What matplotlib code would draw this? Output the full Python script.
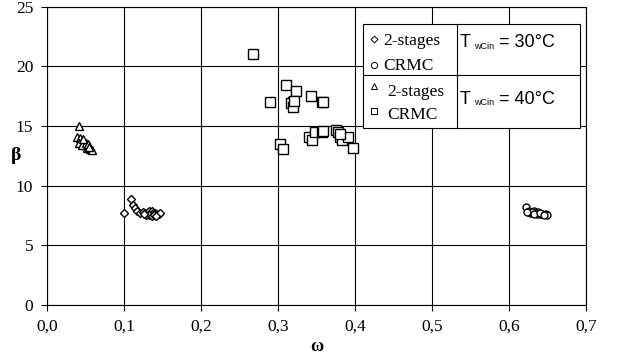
import numpy as np
import matplotlib.pyplot as plt
from matplotlib.patches import Rectangle

# 2-stages, TwCin = 30 C
w_2st_30 = [0.100, 0.109, 0.111, 0.114, 0.117, 0.121, 0.124, 0.127, 0.130, 0.132,
            0.134, 0.136, 0.138, 0.140, 0.142, 0.145, 0.147, 0.129, 0.133, 0.136,
            0.139, 0.142, 0.126]
b_2st_30 = [7.74, 8.86, 8.39, 8.10, 7.90, 7.74, 7.80, 7.70, 7.75, 7.85,
            7.60, 7.85, 7.70, 7.75, 7.60, 7.65, 7.70, 7.50, 7.55, 7.45,
            7.50, 7.45, 7.60]

# CRMC, TwCin = 30 C
w_crmc_30 = [0.622, 0.626, 0.628, 0.632, 0.635, 0.638, 0.640, 0.643, 0.648, 0.650,
             0.630, 0.636, 0.624, 0.633, 0.641, 0.646]
b_crmc_30 = [8.2, 7.9, 7.7, 7.9, 7.7, 7.8, 7.6, 7.6, 7.6, 7.5,
             7.8, 7.6, 7.8, 7.65, 7.75, 7.5]

# 2-stages, TwCin = 40 C
w_2st_40 = [0.041, 0.039, 0.043, 0.045, 0.041, 0.047, 0.049, 0.054, 0.056, 0.052,
            0.045, 0.058, 0.050, 0.053, 0.047, 0.055]
b_2st_40 = [15.0, 14.1, 14.0, 13.7, 13.56, 13.6, 13.4, 13.3, 13.1, 13.2,
            13.4, 13.0, 13.6, 13.5, 13.9, 13.25]

# CRMC, TwCin = 40 C
w_crmc_40 = [0.267, 0.290, 0.310, 0.324, 0.319, 0.317, 0.320, 0.321, 0.343, 0.357,
             0.358, 0.3025, 0.307, 0.340, 0.344, 0.348, 0.357, 0.358, 0.375, 0.378,
             0.380, 0.383, 0.391, 0.397, 0.381]
b_crmc_40 = [21.06, 17.05, 18.46, 17.95, 17.0, 16.9, 16.6, 17.1, 17.5, 17.0,
             17.05, 13.5, 13.1, 14.07, 13.84, 14.5, 14.5, 14.6, 14.68, 14.5,
             14.1, 13.84, 14.07, 13.15, 14.3]

xticks = [0.0, 0.1, 0.2, 0.3, 0.4, 0.5, 0.6, 0.7]
xticklabels = ['0,0', '0,1', '0,2', '0,3', '0,4', '0,5', '0,6', '0,7']
yticks = [0, 5, 10, 15, 20, 25]

serif = 'Liberation Serif'
sans = 'Liberation Sans'

fig = plt.figure(figsize=(6.2, 3.6), dpi=100)
ax = fig.add_axes([0.076, 0.153, 0.869, 0.828])

mk = dict(linestyle='none', markerfacecolor='white', markeredgecolor='black',
          markeredgewidth=1.0, zorder=3)
ax.plot(w_2st_30, b_2st_30, marker='D', markersize=4.5, **mk)
ax.plot(w_crmc_30, b_crmc_30, marker='o', markersize=5, **mk)
ax.plot(w_2st_40, b_2st_40, marker='^', markersize=5.5, **mk)
ax.plot(w_crmc_40, b_crmc_40, marker='s', markersize=6.5, **mk)

ax.set_xlim(0, 0.7)
ax.set_ylim(0, 25)
ax.set_xticks(xticks)
ax.set_xticklabels(xticklabels, fontfamily=serif, fontsize=12.5)
ax.set_yticks(yticks)
ax.set_yticklabels([str(v) for v in yticks], fontfamily=serif, fontsize=12.5)
ax.tick_params(direction='out', length=4, width=0.8, pad=6)
ax.grid(True, color='black', linewidth=0.8)
ax.set_axisbelow(True)
for s in ax.spines.values():
    s.set_linewidth(0.8)

ax.set_xlabel('ω', fontfamily=serif, fontweight='bold', fontsize=13, labelpad=2)
ax.set_ylabel('β', fontfamily=serif, fontweight='bold', fontsize=14,
              rotation=0, va='center', ha='center')
ax.yaxis.set_label_coords(-0.058, 0.50)

# legend table
tr = ax.transAxes
ax.add_patch(Rectangle((0.586, 0.594), 0.403, 0.349, transform=tr,
                       facecolor='white', edgecolor='black', linewidth=0.8,
                       zorder=5, clip_on=False))
ax.plot([0.586, 0.989], [0.772, 0.772], transform=tr, color='black', lw=0.8,
        zorder=6, clip_on=False)
ax.plot([0.761, 0.761], [0.594, 0.943], transform=tr, color='black', lw=0.8,
        zorder=6, clip_on=False)

lg = dict(transform=tr, linestyle='none', markerfacecolor='white',
          markeredgecolor='black', markeredgewidth=0.7, zorder=7, clip_on=False)
ax.plot([0.607], [0.893], marker='D', markersize=3.5, **lg)
ax.plot([0.607], [0.805], marker='o', markersize=4.5, **lg)
ax.plot([0.607], [0.735], marker='^', markersize=4.5, **lg)
ax.plot([0.607], [0.650], marker='s', markersize=4.5, **lg)

tx = dict(transform=tr, fontfamily=serif, fontsize=12.5, va='center', zorder=7)
ax.text(0.623, 0.885, '2-stages', **tx)
ax.text(0.623, 0.800, 'CRMC', **tx)
ax.text(0.631, 0.715, '2-stages', **tx)
ax.text(0.631, 0.638, 'CRMC', **tx)

for y, temp in [(0.879, '30°C'), (0.690, '40°C')]:
    ax.text(0.765, y, 'T', transform=tr, fontfamily=sans, fontsize=13,
            va='center', zorder=7)
    ax.text(0.793, y - 0.012, 'wCin', transform=tr, fontfamily=sans, fontsize=6.5,
            va='center', zorder=7)
    ax.text(0.839, y, '= ' + temp, transform=tr, fontfamily=sans, fontsize=13,
            va='center', zorder=7)

fig.savefig('out.png', dpi=100)
